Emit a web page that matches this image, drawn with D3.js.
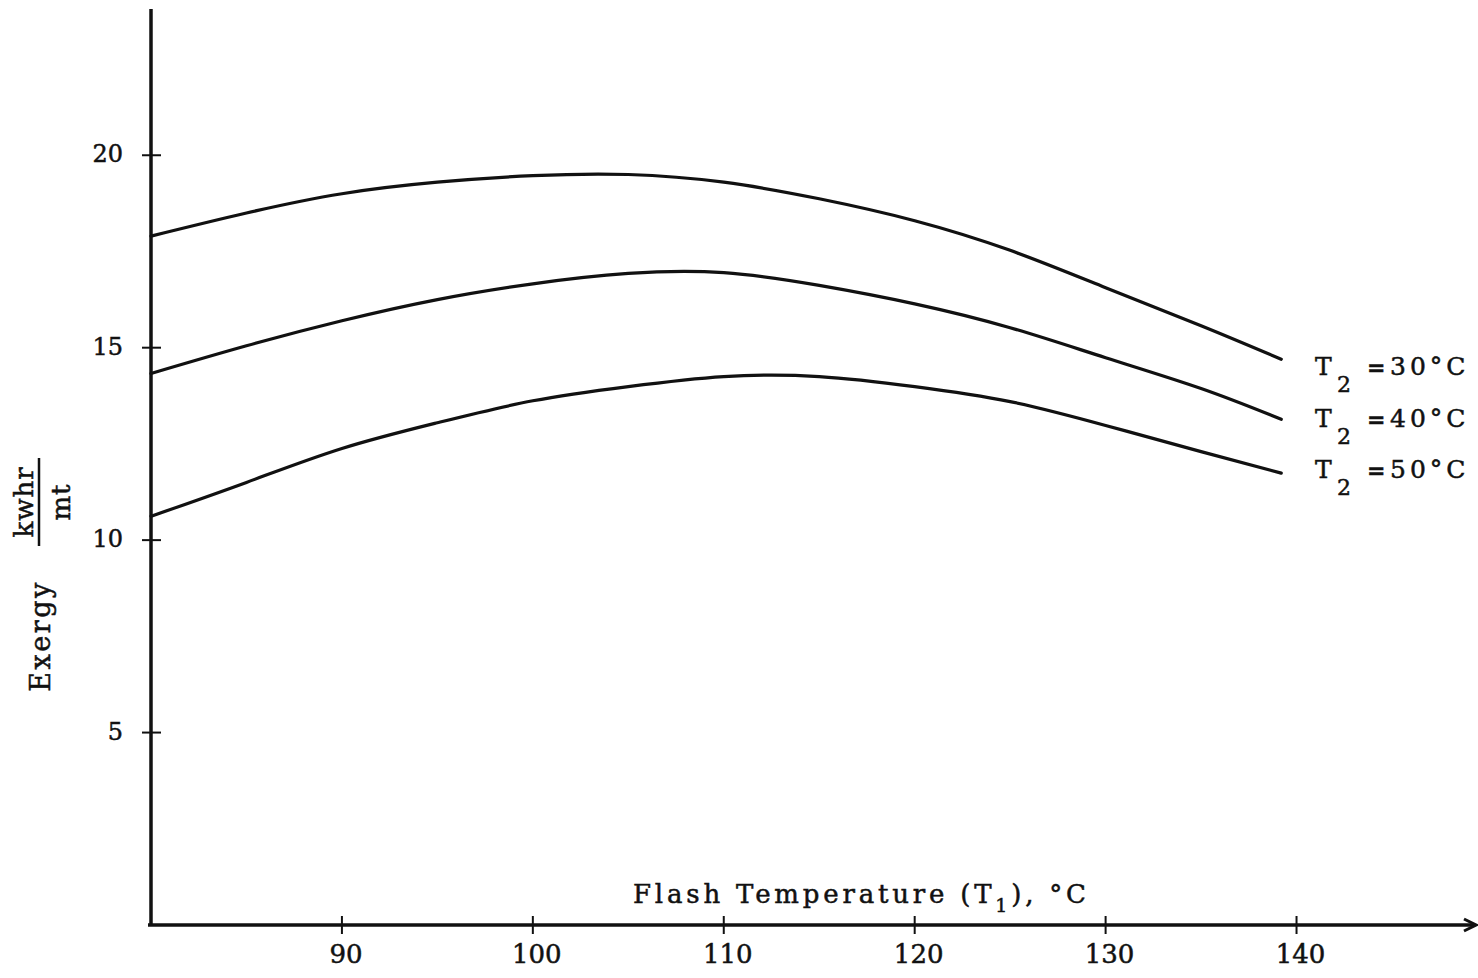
<!DOCTYPE html>
<html>
<head>
<meta charset="utf-8">
<script src="https://cdn.jsdelivr.net/npm/d3@7"></script>
<style>
  html, body { margin: 0; padding: 0; background: #fff; }
  svg text { font-family: "DejaVu Serif", "Liberation Serif", serif; fill: #111; stroke: #111; stroke-width: 0.5; }
</style>
</head>
<body>
<script>
// values
const flashTemp = [80, 85, 90, 95, 100, 105, 110, 115, 120, 125, 130, 135, 139.2];
const exergyT30 = [17.9, 18.5, 19.0, 19.3, 19.47, 19.5, 19.3, 18.87, 18.3, 17.53, 16.56, 15.57, 14.7];
const exergyT40 = [14.33, 15.05, 15.7, 16.25, 16.66, 16.93, 16.95, 16.62, 16.14, 15.52, 14.74, 13.94, 13.14];
const exergyT50 = [10.62, 11.5, 12.38, 13.05, 13.62, 13.99, 14.25, 14.25, 13.99, 13.6, 12.98, 12.3, 11.74];
const seriesNames = ["30", "40", "50"];
const xTicks = [90, 100, 110, 120, 130, 140];
const yTicks = [5, 10, 15, 20];

document.addEventListener("DOMContentLoaded", () => {
    const width = 1478;
    const height = 978;

    const xScale = d3.scaleLinear()
        .domain([80, 149.4])
        .range([151, 1476]);

    const yScale = d3.scaleLinear()
        .domain([0, 23.8])
        .range([925, 9]);

    const svg = d3.select("body")
        .append("svg")
        .attr("width", width)
        .attr("height", height);

    svg.append("rect").attr("width", width).attr("height", height).attr("fill", "#fff");

    const x0 = xScale(80);
    const y0 = yScale(0);

    // y axis line + crossing ticks
    svg.append("line")
        .attr("x1", x0).attr("x2", x0)
        .attr("y1", yScale(23.8)).attr("y2", y0 + 1)
        .attr("stroke", "#111").attr("stroke-width", 3.5);

    svg.selectAll(".ytick")
        .data(yTicks)
        .enter().append("line")
        .attr("x1", x0 - 9).attr("x2", x0 + 10)
        .attr("y1", d => yScale(d)).attr("y2", d => yScale(d))
        .attr("stroke", "#111").attr("stroke-width", 2);

    svg.selectAll(".ylab")
        .data(yTicks)
        .enter().append("text")
        .attr("x", x0 - 28)
        .attr("y", d => yScale(d) + 7)
        .attr("text-anchor", "end")
        .attr("font-size", 24)
        .text(d => d);

    // x axis line with arrow
    svg.append("line")
        .attr("x1", x0 - 3).attr("x2", xScale(149.4) - 2)
        .attr("y1", y0).attr("y2", y0)
        .attr("stroke", "#111").attr("stroke-width", 3.5);
    const ax = xScale(149.4);
    svg.append("path")
        .attr("d", `M${ax - 12},${y0 - 6} L${ax},${y0} L${ax - 12},${y0 + 6}`)
        .attr("fill", "none").attr("stroke", "#111").attr("stroke-width", 3);

    svg.selectAll(".xtick")
        .data(xTicks)
        .enter().append("line")
        .attr("x1", d => xScale(d)).attr("x2", d => xScale(d))
        .attr("y1", y0 - 9).attr("y2", y0 + 9)
        .attr("stroke", "#111").attr("stroke-width", 2);

    svg.selectAll(".xlab")
        .data(xTicks)
        .enter().append("text")
        .attr("x", d => xScale(d) + 4)
        .attr("y", y0 + 38)
        .attr("text-anchor", "middle")
        .attr("font-size", 26)
        .text(d => d);

    // x axis title
    const xt = svg.append("text")
        .attr("x", 633)
        .attr("y", 903)
        .attr("font-size", 26)
        .attr("letter-spacing", 3.8);
    xt.append("tspan").text("Flash Temperature (T");
    xt.append("tspan").attr("font-size", 19).attr("dy", 9).text("1");
    xt.append("tspan").attr("dy", -9).text("), \u00b0C");

    // y axis title
    svg.append("text")
        .attr("transform", "translate(50,636) rotate(-90)")
        .attr("text-anchor", "middle")
        .attr("font-size", 27)
        .attr("letter-spacing", 2.5)
        .text("Exergy");
    const frac = svg.append("g").attr("transform", "translate(0,502) rotate(-90)");
    frac.append("text").attr("x", 0).attr("y", 33)
        .attr("text-anchor", "middle").attr("font-size", 26).attr("letter-spacing", 1).text("kwhr");
    frac.append("line").attr("x1", -44).attr("x2", 44).attr("y1", 39).attr("y2", 39)
        .attr("stroke", "#111").attr("stroke-width", 2.5);
    frac.append("text").attr("x", 0).attr("y", 70)
        .attr("text-anchor", "middle").attr("font-size", 26).attr("letter-spacing", 1).text("mt");

    // curves
    const allSeries = [exergyT30, exergyT40, exergyT50];
    const line = d3.line()
        .x((d, i) => xScale(flashTemp[i]))
        .y(d => yScale(d))
        .curve(d3.curveNatural);

    svg.selectAll(".curve")
        .data(allSeries)
        .enter().append("path")
        .attr("d", d => line(d))
        .attr("fill", "none")
        .attr("stroke", "#111")
        .attr("stroke-width", 3.2)
        .attr("stroke-linecap", "round");

    // curve labels
    seriesNames.forEach((name, i) => {
        const lx = 1315;
        const ly = 375 + i * 51.5;
        const t = svg.append("text").attr("x", lx).attr("y", ly).attr("font-size", 25);
        t.append("tspan").text("T");
        t.append("tspan").attr("x", lx + 22).attr("dy", 17).attr("font-size", 22).text("2");
        t.append("tspan").attr("x", lx + 52).attr("dy", -17).attr("font-size", 22).attr("font-weight", "bold").text("=");
        t.append("tspan").attr("x", lx + 75).attr("letter-spacing", 4).text(name + "\u00b0C");
    });
});
</script>
</body>
</html>
